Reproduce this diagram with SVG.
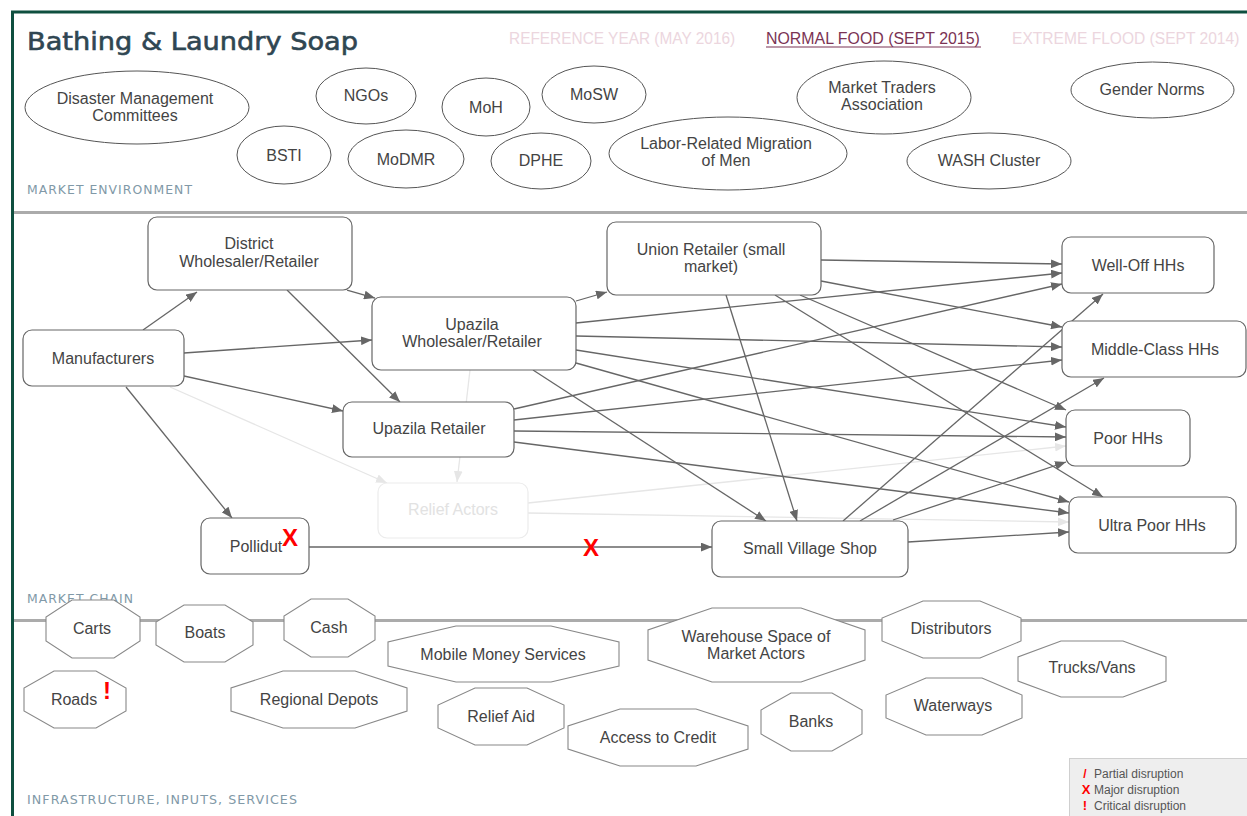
<svg xmlns="http://www.w3.org/2000/svg" width="1247" height="816" viewBox="0 0 1247 816">
  <style>
    .lbl { font-family: "Liberation Sans", Arial, sans-serif; font-size: 16px; fill: #444; text-anchor: middle; }
    .env ellipse { fill: #fff; stroke: #555; stroke-width: 1; }
    .box { fill: #fff; stroke: #666; stroke-width: 1.2; }
    .box-faded { fill: #fff; stroke: #ececec; stroke-width: 1.2; }
    .lbl-faded { fill: #e2e2e2; }
    .oct { fill: #fff; stroke: #888; stroke-width: 1.1; }
    .edge { fill: none; stroke: #666; stroke-width: 1.3; marker-end: url(#arr); }
    .edge-faded { fill: none; stroke: #e6e6e6; stroke-width: 1.3; marker-end: url(#arr-faded); }
    .section { font-family: "DejaVu Sans", sans-serif; font-size: 12px; fill: #8199a7; letter-spacing: 1px; }
    .tab { font-family: "Liberation Sans", Arial, sans-serif; font-size: 17px; }
    .mark { font-family: "Liberation Sans", Arial, sans-serif; font-weight: bold; fill: #f00; text-anchor: middle; }
    .legend { font-family: "Liberation Sans", Arial, sans-serif; font-size: 12px; fill: #555; }
  </style>
  <defs>
    <marker id="arr" viewBox="0 0 10 8" refX="10" refY="4" markerWidth="11" markerHeight="9" markerUnits="userSpaceOnUse" orient="auto">
      <path d="M0,0 L10,4 L0,8 z" fill="#666"/>
    </marker>
    <marker id="arr-faded" viewBox="0 0 10 8" refX="10" refY="4" markerWidth="11" markerHeight="9" markerUnits="userSpaceOnUse" orient="auto">
      <path d="M0,0 L10,4 L0,8 z" fill="#e6e6e6"/>
    </marker>
  </defs>

  <rect x="0" y="0" width="1247" height="816" fill="#fff"/>

  <!-- frame and section dividers -->
  <g id="frame">
    <line x1="11" y1="12" x2="1247" y2="12" stroke="#0e4f3f" stroke-width="3"/>
    <line x1="12.5" y1="11" x2="12.5" y2="816" stroke="#0e4f3f" stroke-width="3"/>
    <line x1="14" y1="212.5" x2="1247" y2="212.5" stroke="#ababab" stroke-width="3"/>
    <line x1="14" y1="620.5" x2="1247" y2="620.5" stroke="#ababab" stroke-width="3"/>
  </g>

  <!-- header: title and scenario tabs (tabs set in a condensed cut) -->
  <g id="header">
    <text x="27" y="50" font-family="DejaVu Sans, sans-serif" font-size="25" fill="#2f4652" stroke="#2f4652" stroke-width="0.6" textLength="331" lengthAdjust="spacingAndGlyphs">Bathing &amp; Laundry Soap</text>
    <text class="tab" transform="translate(509,44) scale(0.908,1)" fill="#ecd6de">REFERENCE YEAR (MAY 2016)</text>
    <text class="tab" transform="translate(766,44) scale(0.936,1)" fill="#7b3354">NORMAL FOOD (SEPT 2015)</text>
    <line x1="766" y1="47" x2="981" y2="47" stroke="#7b3354" stroke-width="1.2"/>
    <text class="tab" transform="translate(1012,44) scale(0.917,1)" fill="#ecd6de">EXTREME FLOOD (SEPT 2014)</text>
  </g>

  <!-- section labels -->
  <text class="section" x="27" y="194" textLength="166" lengthAdjust="spacingAndGlyphs">MARKET ENVIRONMENT</text>
  <text class="section" x="27" y="603" textLength="107" lengthAdjust="spacingAndGlyphs">MARKET CHAIN</text>
  <text class="section" x="27" y="804" textLength="271" lengthAdjust="spacingAndGlyphs">INFRASTRUCTURE, INPUTS, SERVICES</text>

  <!-- market environment -->
  <g class="env">
    <g id="env-dmc"><ellipse cx="137" cy="107.5" rx="112" ry="36.5"/><text class="lbl" x="135" y="104">Disaster Management</text><text class="lbl" x="135" y="121">Committees</text></g>
    <g id="env-ngos"><ellipse cx="366" cy="96" rx="50" ry="28"/><text class="lbl" x="366" y="101">NGOs</text></g>
    <g id="env-bsti"><ellipse cx="284" cy="155" rx="47" ry="29"/><text class="lbl" x="284" y="161">BSTI</text></g>
    <g id="env-modmr"><ellipse cx="406" cy="159" rx="58" ry="29"/><text class="lbl" x="406" y="165">MoDMR</text></g>
    <g id="env-moh"><ellipse cx="486" cy="107" rx="44" ry="29"/><text class="lbl" x="486" y="113">MoH</text></g>
    <g id="env-mosw"><ellipse cx="594" cy="94.5" rx="52" ry="28.5"/><text class="lbl" x="594" y="100">MoSW</text></g>
    <g id="env-dphe"><ellipse cx="541" cy="161" rx="50" ry="28"/><text class="lbl" x="541" y="166">DPHE</text></g>
    <g id="env-migration"><ellipse cx="728" cy="153.5" rx="119" ry="36.5"/><text class="lbl" x="726" y="149">Labor-Related Migration</text><text class="lbl" x="726" y="166">of Men</text></g>
    <g id="env-traders"><ellipse cx="884" cy="97.5" rx="87" ry="36.5"/><text class="lbl" x="882" y="93">Market Traders</text><text class="lbl" x="882" y="110">Association</text></g>
    <g id="env-wash"><ellipse cx="989" cy="161" rx="82" ry="28"/><text class="lbl" x="989" y="166">WASH Cluster</text></g>
    <g id="env-gender"><ellipse cx="1152.5" cy="90" rx="81.5" ry="28"/><text class="lbl" x="1152" y="95">Gender Norms</text></g>
  </g>

  <!-- connectors -->
  <g id="connectors">
    <line class="edge-faded" x1="170" y1="387" x2="387" y2="483"/>
    <line class="edge-faded" x1="470" y1="370" x2="457" y2="482"/>
    <line class="edge-faded" x1="528" y1="503" x2="1066" y2="446"/>
    <line class="edge-faded" x1="528" y1="513" x2="1069" y2="522"/>

    <line class="edge" x1="143" y1="330" x2="197" y2="292"/>
    <line class="edge" x1="184" y1="353" x2="372" y2="340"/>
    <line class="edge" x1="184" y1="376" x2="343" y2="411"/>
    <line class="edge" x1="126" y1="387" x2="232" y2="518"/>
    <line class="edge" x1="347" y1="290" x2="375" y2="298"/>
    <line class="edge" x1="287" y1="290" x2="400" y2="402"/>
    <line class="edge" x1="576" y1="301" x2="607" y2="292"/>
    <line class="edge" x1="533" y1="370" x2="766" y2="521"/>
    <line class="edge" x1="576" y1="323" x2="1062" y2="273"/>
    <line class="edge" x1="576" y1="336" x2="1062" y2="347"/>
    <line class="edge" x1="576" y1="350" x2="1066" y2="427"/>
    <line class="edge" x1="576" y1="363" x2="1069" y2="502"/>
    <line class="edge" x1="514" y1="409" x2="1062" y2="284"/>
    <line class="edge" x1="514" y1="420" x2="1062" y2="360"/>
    <line class="edge" x1="514" y1="431" x2="1066" y2="437"/>
    <line class="edge" x1="514" y1="442" x2="1069" y2="513"/>
    <line class="edge" x1="821" y1="260" x2="1062" y2="264"/>
    <line class="edge" x1="821" y1="281" x2="1062" y2="327"/>
    <line class="edge" x1="726" y1="295" x2="797" y2="521"/>
    <line class="edge" x1="775" y1="295" x2="1103" y2="497"/>
    <line class="edge" x1="800" y1="295" x2="1066" y2="410"/>
    <line class="edge" x1="309" y1="547" x2="712" y2="547"/>
    <line class="edge" x1="843" y1="521" x2="1103" y2="294"/>
    <line class="edge" x1="860" y1="521" x2="1104" y2="378"/>
    <line class="edge" x1="893" y1="520" x2="1066" y2="462"/>
    <line class="edge" x1="908" y1="542" x2="1069" y2="532"/>
  </g>

  <!-- market chain actors -->
  <g id="node-district"><rect class="box" x="148" y="217" width="204" height="73" rx="9"/><text class="lbl" x="249" y="249">District</text><text class="lbl" x="249" y="267">Wholesaler/Retailer</text></g>
  <g id="node-manufacturers"><rect class="box" x="23" y="330" width="161" height="56" rx="9"/><text class="lbl" x="103" y="364">Manufacturers</text></g>
  <g id="node-upazila-wr"><rect class="box" x="372" y="297" width="204" height="73" rx="9"/><text class="lbl" x="472" y="330">Upazila</text><text class="lbl" x="472" y="347">Wholesaler/Retailer</text></g>
  <g id="node-upazila-retailer"><rect class="box" x="343" y="402" width="171" height="55" rx="9"/><text class="lbl" x="429" y="434">Upazila Retailer</text></g>
  <g id="node-relief"><rect class="box-faded" x="378" y="483" width="150" height="55" rx="9"/><text class="lbl lbl-faded" x="453" y="515">Relief Actors</text></g>
  <g id="node-pollidut"><rect class="box" x="201" y="518" width="108" height="56" rx="9"/><text class="lbl" x="256" y="552">Pollidut</text><text class="mark" x="290" y="546" font-size="24">X</text></g>
  <g id="node-union"><rect class="box" x="607" y="222" width="214" height="73" rx="9"/><text class="lbl" x="711" y="255">Union Retailer (small</text><text class="lbl" x="711" y="272">market)</text></g>
  <g id="node-village-shop"><rect class="box" x="712" y="521" width="196" height="56" rx="9"/><text class="lbl" x="810" y="554">Small Village Shop</text></g>
  <g id="node-welloff"><rect class="box" x="1062" y="237" width="152" height="56" rx="9"/><text class="lbl" x="1138" y="271">Well-Off HHs</text></g>
  <g id="node-middle"><rect class="box" x="1062" y="321" width="184" height="56" rx="9"/><text class="lbl" x="1155" y="355">Middle-Class HHs</text></g>
  <g id="node-poor"><rect class="box" x="1066" y="410" width="124" height="56" rx="9"/><text class="lbl" x="1128" y="444">Poor HHs</text></g>
  <g id="node-ultrapoor"><rect class="box" x="1069" y="497" width="167" height="56" rx="9"/><text class="lbl" x="1152" y="531">Ultra Poor HHs</text></g>
  <text id="mark-pollidut-link" class="mark" x="591" y="556" font-size="24">X</text>

  <!-- infrastructure, inputs, services -->
  <g id="infra-carts"><polygon class="oct" points="72,600 114,600 140,617 140,641 114,658 72,658 46,641 46,617"/><text class="lbl" x="92" y="634">Carts</text></g>
  <g id="infra-boats"><polygon class="oct" points="184,605 225,605 253,622 253,645 225,662 184,662 156,645 156,622"/><text class="lbl" x="205" y="638">Boats</text></g>
  <g id="infra-cash"><polygon class="oct" points="311,599 348,599 375,616 375,640 348,657 311,657 284,640 284,616"/><text class="lbl" x="329" y="633">Cash</text></g>
  <g id="infra-roads"><polygon class="oct" points="54,671 96,671 126,688 126,711 96,728 54,728 24,711 24,688"/><text class="lbl" x="74" y="705">Roads</text><text class="mark" x="107" y="699" font-size="24">!</text></g>
  <g id="infra-depots"><polygon class="oct" points="283,671 355,671 407,688 407,711 355,728 283,728 231,711 231,688"/><text class="lbl" x="319" y="705">Regional Depots</text></g>
  <g id="infra-mobile"><polygon class="oct" points="456,626 551,626 619,642 619,666 551,682 456,682 388,666 388,642"/><text class="lbl" x="503" y="660">Mobile Money Services</text></g>
  <g id="infra-relief-aid"><polygon class="oct" points="475,688 527,688 564,705 564,728 527,745 475,745 438,728 438,705"/><text class="lbl" x="501" y="722">Relief Aid</text></g>
  <g id="infra-credit"><polygon class="oct" points="620,709 696,709 748,726 748,749 696,766 620,766 568,749 568,726"/><text class="lbl" x="658" y="743">Access to Credit</text></g>
  <g id="infra-warehouse"><polygon class="oct" points="712,608 801,608 865,630 865,660 801,682 712,682 648,660 648,630"/><text class="lbl" x="756" y="642">Warehouse Space of</text><text class="lbl" x="756" y="659">Market Actors</text></g>
  <g id="infra-distributors"><polygon class="oct" points="923,601 980,601 1021,618 1021,641 980,658 923,658 882,641 882,618"/><text class="lbl" x="951" y="634">Distributors</text></g>
  <g id="infra-trucks"><polygon class="oct" points="1061,641 1123,641 1166,657 1166,681 1123,697 1061,697 1018,681 1018,657"/><text class="lbl" x="1092" y="673">Trucks/Vans</text></g>
  <g id="infra-waterways"><polygon class="oct" points="926,678 982,678 1022,695 1022,718 982,735 926,735 886,718 886,695"/><text class="lbl" x="953" y="711">Waterways</text></g>
  <g id="infra-banks"><polygon class="oct" points="791,693 832,693 862,710 862,734 832,751 791,751 761,734 761,710"/><text class="lbl" x="811" y="727">Banks</text></g>

  <!-- disruption legend -->
  <g id="legend">
    <rect x="1069.5" y="758.5" width="180" height="60" fill="#eeeeee" stroke="#cfcfcf"/>
    <text class="mark" x="1085" y="778" font-size="12" font-weight="normal">/</text>
    <text class="legend" x="1094" y="778">Partial disruption</text>
    <text class="mark" x="1086" y="794" font-size="13">X</text>
    <text class="legend" x="1094" y="794">Major disruption</text>
    <text class="mark" x="1085" y="810" font-size="13">!</text>
    <text class="legend" x="1094" y="810">Critical disruption</text>
  </g>
</svg>
